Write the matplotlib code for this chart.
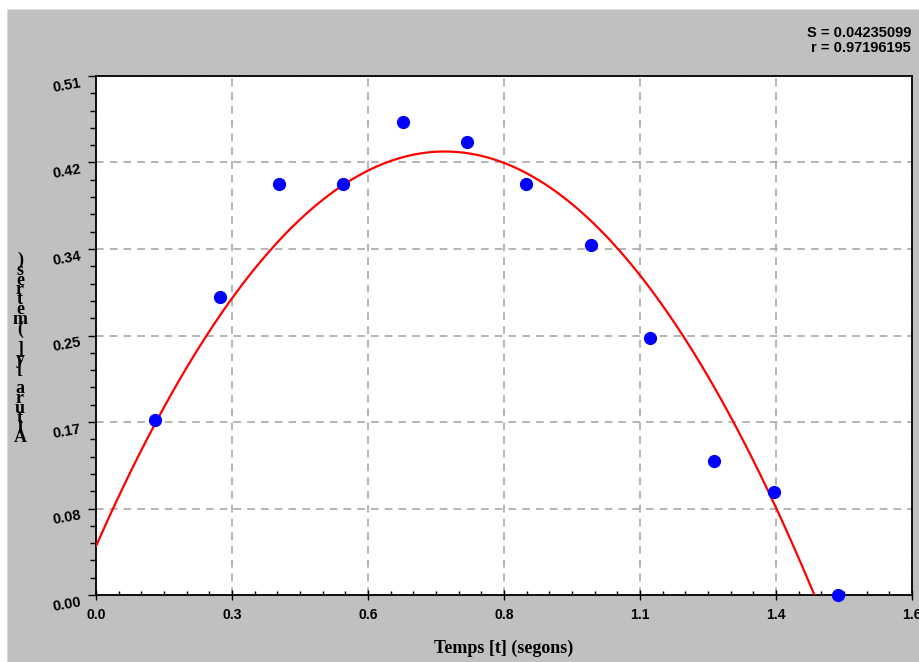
import numpy as np
import matplotlib
matplotlib.use("Agg")
import matplotlib.pyplot as plt
from matplotlib.patches import Rectangle
from matplotlib.ticker import AutoMinorLocator

# mesures (temps en segons, altura en metres)
temps = [0.12, 0.25, 0.37, 0.50, 0.62, 0.75, 0.87, 1.00, 1.12, 1.25, 1.37, 1.50]
altura = [0.172, 0.293, 0.404, 0.404, 0.465, 0.445, 0.404, 0.344, 0.253, 0.132, 0.101, 0.0]

# coeficients de l'ajust mostrat (a t^2 + b t + c)
fit_coef = [-0.78, 1.10, 0.048]

x_labels = ["0.0", "0.3", "0.6", "0.8", "1.1", "1.4", "1.6"]
y_labels = ["0.00", "0.08", "0.17", "0.25", "0.34", "0.42", "0.51"]
x_max = 1.65
y_max = 0.51

stat_S = "S = 0.04235099"
stat_r = "r = 0.97196195"
xlabel = "Temps [t] (segons)"
ylabel = "Altura [y] (metres)"

W, H = 920, 662
fig = plt.figure(figsize=(W / 100, H / 100), dpi=100, facecolor="white")
fig.patches.append(Rectangle((7 / W, 0), 1, 1 - 9 / H, transform=fig.transFigure,
                             facecolor="#c0c0c0", edgecolor="#dcdcdc", lw=0.8, zorder=-10))

ax = fig.add_axes([96 / W, 1 - 595 / H, (912 - 96) / W, (595 - 76) / H])
ax.set_facecolor("white")
for sp in ax.spines.values():
    sp.set_color("black")
    sp.set_linewidth(1.3)

tt = np.linspace(0, x_max, 400)
ax.plot(tt, np.polyval(fit_coef, tt), color="#ff0000", lw=1.6, zorder=3)
ax.plot(temps, altura, "o", color="#0000ff", markersize=8.5, zorder=4, clip_on=False)

ax.set_xlim(0, x_max)
ax.set_ylim(0, y_max)
ax.set_xticks(np.linspace(0, x_max, len(x_labels)))
ax.set_yticks(np.linspace(0, y_max, len(y_labels)))
ax.set_xticklabels(x_labels, fontfamily="Liberation Sans", fontweight="bold", fontsize=10)
ax.set_yticklabels(y_labels, fontfamily="Liberation Sans", fontweight="bold", fontsize=10.5,
                   rotation=10, va="top")
ax.xaxis.set_minor_locator(AutoMinorLocator(6))
ax.yaxis.set_minor_locator(AutoMinorLocator(5))

ax.tick_params(axis="x", which="major", direction="inout", length=7, width=1, pad=6)
ax.tick_params(axis="x", which="minor", direction="in", length=3, width=1)
ax.tick_params(axis="y", which="major", direction="out", length=6, width=1, pad=4)
ax.tick_params(axis="y", which="minor", direction="out", length=4, width=1)

ax.grid(True, which="major", color="#a0a0a0", linestyle=(0, (5, 4)), lw=1.1)
ax.set_axisbelow(True)

fig.text(911 / W, 1 - 37 / H, stat_S, ha="right", va="baseline",
         fontfamily="Liberation Sans", fontweight="bold", fontsize=10.5)
fig.text(911 / W, 1 - 52 / H, stat_r, ha="right", va="baseline",
         fontfamily="Liberation Sans", fontweight="bold", fontsize=10.5)

fig.text(504 / W, 1 - 653 / H, xlabel, ha="center", va="baseline",
         fontfamily="Liberation Serif", fontweight="bold", fontsize=13)

# etiqueta vertical, lletra a lletra de baix a dalt
fig.text(20 / W, 1 - 349 / H, "\n".join(reversed(ylabel)), ha="center", va="center",
         multialignment="center", linespacing=0.45,
         fontfamily="Liberation Serif", fontweight="bold", fontsize=13)

fig.savefig("out.png", dpi=100, facecolor=fig.get_facecolor())
